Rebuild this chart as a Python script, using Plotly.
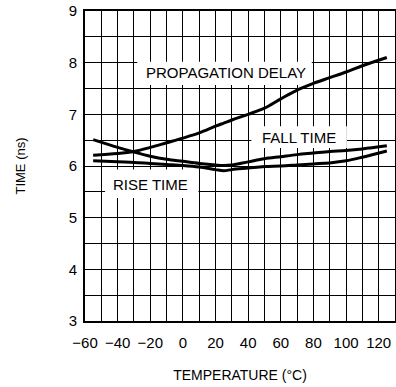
import plotly.graph_objects as go

temp = [-55, -40, -30, -20, -10, 0, 10, 20, 25, 30, 40, 50, 60, 70, 80, 90, 100, 110, 125]
prop_delay = [6.21, 6.24, 6.28, 6.36, 6.45, 6.54, 6.64, 6.77, 6.83, 6.89, 7.0, 7.12,
              7.3, 7.47, 7.6, 7.71, 7.82, 7.94, 8.1]
fall_time = [6.51, 6.36, 6.27, 6.19, 6.13, 6.09, 6.05, 6.02, 6.01, 6.02, 6.08, 6.14,
             6.18, 6.22, 6.25, 6.28, 6.3, 6.33, 6.39]
rise_time = [6.1, 6.08, 6.07, 6.05, 6.03, 6.01, 5.98, 5.93, 5.91, 5.93, 5.96, 5.99,
             6.0, 6.02, 6.04, 6.06, 6.1, 6.17, 6.29]

x_ticks = [-60, -40, -20, 0, 20, 40, 60, 80, 100, 120]
y_ticks = [3, 4, 5, 6, 7, 8, 9]

# label boxes: text, x0, x1, y0, y1, text x, text y
labels = [
    ("PROPAGATION DELAY", -28, 79, 7.57, 8.02, 26.5, 7.81),
    ("FALL TIME", 42, 100.5, 6.35, 6.77, 71, 6.56),
    ("RISE TIME", -47.7, 9.5, 5.38, 5.93, -19.8, 5.65),
]

font = "Liberation Sans, Arial, sans-serif"

fig = go.Figure()
for ys in (prop_delay, fall_time, rise_time):
    fig.add_trace(go.Scatter(x=temp, y=ys, mode="lines", line=dict(color="black", width=3, shape="spline"),
                             showlegend=False, hoverinfo="skip"))

for txt, x0, x1, y0, y1, tx, ty in labels:
    fig.add_shape(type="rect", x0=x0, x1=x1, y0=y0, y1=y1, line=dict(width=0),
                  fillcolor="white", layer="between")
    fig.add_annotation(x=tx, y=ty, text=txt, showarrow=False,
                       font=dict(family=font, size=15, color="black"))

fig.update_xaxes(range=[-60, 130], tickvals=x_ticks, showgrid=True, gridcolor="black", gridwidth=1.3,
                 minor=dict(dtick=10, tick0=0, showgrid=True, gridcolor="black", gridwidth=1.3),
                 showline=True, linecolor="black", linewidth=2, mirror=True, zeroline=False,
                 ticks="", ticklabelstandoff=7, tickfont=dict(family=font, size=15, color="black"),
                 automargin=False,
                 title=dict(text="TEMPERATURE (°C)", font=dict(family=font, size=14, color="black"), standoff=20))
fig.update_yaxes(range=[3, 9], tickvals=y_ticks, showgrid=True, gridcolor="black", gridwidth=1.3,
                 minor=dict(dtick=0.5, tick0=0, showgrid=True, gridcolor="black", gridwidth=1.3),
                 showline=True, linecolor="black", linewidth=2, mirror=True, zeroline=False,
                 ticks="", ticklabelstandoff=3, tickfont=dict(family=font, size=15, color="black"),
                 automargin=False,
                 title=dict(text="TIME (ns)", font=dict(family=font, size=13, color="black"), standoff=40))

fig.update_layout(width=396, height=387, margin=dict(l=85, r=1, t=11, b=66),
                  plot_bgcolor="white", paper_bgcolor="white")

# drop the default page margin so the figure sits at the window's corner
fig.write_html("out.html", config={"displayModeBar": False},
               post_script="document.body.style.margin='0';")
